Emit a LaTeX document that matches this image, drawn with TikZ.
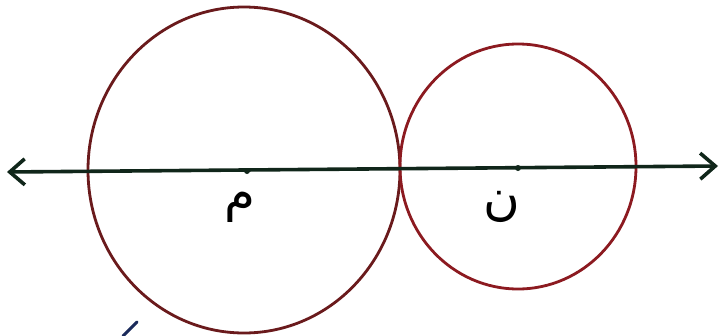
\documentclass[tikz,border=0pt]{standalone}
\usepackage{fontspec}
\usetikzlibrary{arrows.meta}
\TeXXeTstate=1
\newfontfamily\arabicfont[Script=Arabic]{DejaVu Sans}
\definecolor{bigred}{HTML}{6A1A1C}
\definecolor{smallred}{HTML}{8C1A20}
\definecolor{axisgreen}{HTML}{10261A}
\definecolor{penblue}{HTML}{1A2A5A}
\tikzset{
  circ/.style={line width=2.8pt},
  axisline/.style={line width=3.6pt, color=axisgreen, line cap=round,
    {Straight Barb[length=15pt,width=26pt,line width=3.6pt]}-{Straight Barb[length=15pt,width=26pt,line width=3.6pt]}},
  cdot/.style={circle, fill=axisgreen, inner sep=0pt, minimum size=6pt},
  lbl/.style={font=\arabicfont\fontsize{50}{50}\selectfont, text=black, inner sep=0pt, anchor=center},
}
\begin{document}
\begin{tikzpicture}[x=1pt,y=-1pt]
\useasboundingbox (0,0) rectangle (723,335);
\fill[white] (0,0) rectangle (723,335);
% circles
\coordinate (M) at (244,170);
\coordinate (N) at (518,166.5);
\draw[circ, bigred] (M) ellipse [x radius=156, y radius=163];
\draw[circ, smallred] (N) ellipse [x radius=118, y radius=122.5];
% axis
\coordinate (L) at (7,172);
\coordinate (R) at (718,166);
\draw[axisline] (L) -- (R);
% centre points
\node[cdot] (dm) at (247,171) {};
\node[cdot] (dn) at (518,168) {};
% labels
\node[lbl] (lm) at (240,207) {\beginR م\endR};
\node[lbl] (ln) at (502,207) {\beginR ن\endR};
% pen fragment at the bottom edge
\coordinate (b1) at (123,336);
\coordinate (b2) at (137,322);
\draw[penblue, line width=3pt, line cap=round] (b1) -- (b2);
\end{tikzpicture}
\end{document}
